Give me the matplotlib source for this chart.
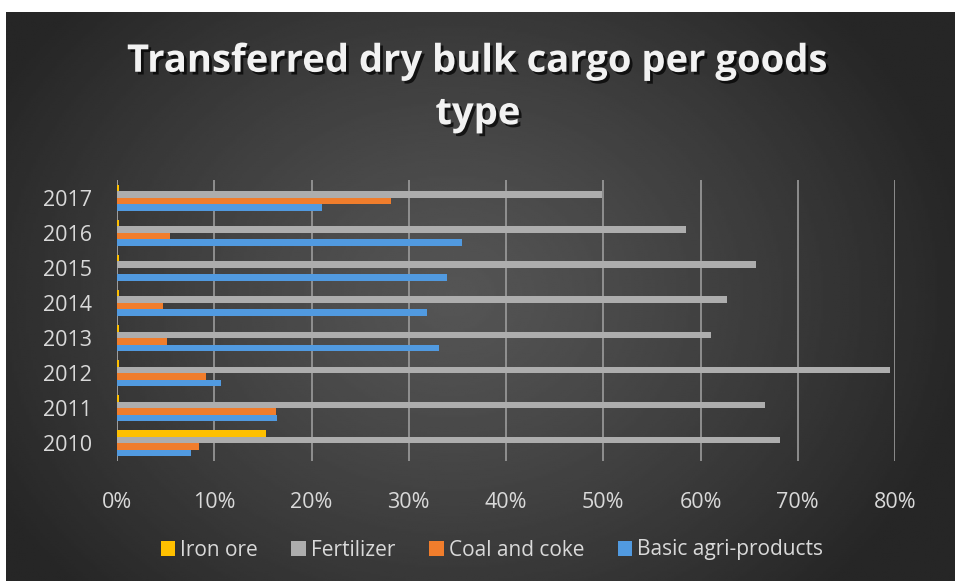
import matplotlib.pyplot as plt
import matplotlib.patheffects as pe
import numpy as np

years = ["2010", "2011", "2012", "2013", "2014", "2015", "2016", "2017"]
iron_ore = [0.153, 0.002, 0.002, 0.002, 0.002, 0.002, 0.002, 0.002]
fertilizer = [0.682, 0.666, 0.795, 0.611, 0.627, 0.657, 0.585, 0.499]
coal_coke = [0.084, 0.164, 0.092, 0.051, 0.047, 0.0, 0.054, 0.282]
agri = [0.076, 0.165, 0.107, 0.331, 0.319, 0.339, 0.355, 0.211]

series = [("Iron ore", iron_ore, "#ffc000"),
          ("Fertilizer", fertilizer, "#adadad"),
          ("Coal and coke", coal_coke, "#f07d2c"),
          ("Basic agri-products", agri, "#519ae0")]

plt.rcParams['font.family'] = ['Open Sans', 'DejaVu Sans']

W, H = 956, 581
fig = plt.figure(figsize=(W / 100, H / 100), dpi=100)
fig.patch.set_facecolor("white")

# dark background with a soft radial glow in the middle
bg = fig.add_axes([6 / W, 0, 1 - 7 / W, 1 - 12 / H])
gx, gy = np.meshgrid(np.linspace(0, 1, 400), np.linspace(0, 1, 300))
r = np.sqrt(((gx - 0.47) / 0.55) ** 2 + ((gy - 0.5) / 0.75) ** 2)
shade = (0x55 - (0x55 - 0x26) * np.clip(r, 0, 1) ** 1.2) / 255
bg.imshow(shade, cmap="gray", vmin=0, vmax=1, aspect="auto", extent=[0, 1, 0, 1], interpolation="bilinear")
bg.axis("off")

ax = fig.add_axes([117 / W, 1 - 461 / H, (895 - 117) / W, (461 - 180) / H])
ax.patch.set_alpha(0)

y = np.arange(len(years))
h = 0.185
offsets = [1.5 * h, 0.5 * h, -0.5 * h, -1.5 * h]
for (name, vals, col), off in zip(series, offsets):
    ax.barh(y + off, vals, height=h, color=col, label=name, zorder=3)

ax.set_xlim(0, 0.8)
ax.set_ylim(-0.5, len(years) - 0.5)
ax.set_xticks(np.arange(0, 0.81, 0.1))
ax.set_xticklabels([f"{int(round(t * 100))}%" for t in np.arange(0, 0.81, 0.1)])
ax.set_yticks(y)
ax.set_yticklabels(years)
ax.tick_params(length=0, labelsize=15.5, labelcolor="#d9d9d9")
ax.tick_params(axis="x", pad=22)
ax.tick_params(axis="y", pad=18)
for s in ax.spines.values():
    s.set_visible(False)
ax.grid(axis="x", color="#9c9c9c", linewidth=1.2, zorder=1)
ax.axvline(0, color="#a0a0a0", linewidth=1.2, zorder=2)

fig.text(478 / W, 1 - 88 / H, "Transferred dry bulk cargo per goods\ntype", ha="center", va="center",
         fontsize=27.5, fontweight="bold", color="#f2f2f2", linespacing=1.5,
         path_effects=[pe.withSimplePatchShadow(offset=(2, -2), shadow_rgbFace="black", alpha=0.7)])

leg = fig.legend(loc="center", bbox_to_anchor=(492 / W, 31 / H), ncol=4, frameon=False,
                 fontsize=15, handlelength=0.7, handleheight=0.75, handletextpad=0.25, columnspacing=1.6)
for t in leg.get_texts():
    t.set_color("#d9d9d9")

fig.savefig("out.png", dpi=100, facecolor=fig.get_facecolor())
